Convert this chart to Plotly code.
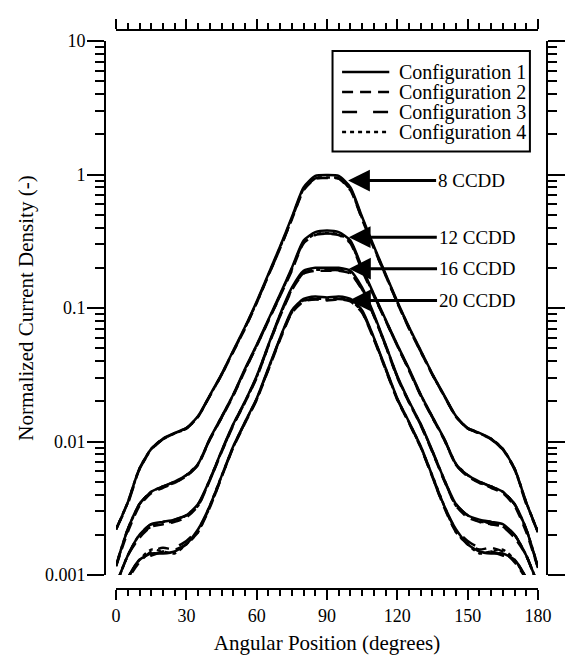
import math
import plotly.graph_objects as go

# ---------------- data ----------------
ANGLE = [0, 5, 10, 15, 20, 25, 30, 35, 40, 45, 50, 55, 60, 65, 70, 75, 80, 85, 90,
         95, 100, 105, 110, 115, 120, 125, 130, 135, 140, 145, 150, 155, 160, 165, 170, 175, 180]

CONFIG_NAMES = ["Configuration 1", "Configuration 2", "Configuration 3", "Configuration 4"]
FAMILY_LABELS = ["8 CCDD", "12 CCDD", "16 CCDD", "20 CCDD"]

# 8 CCDD
F8_C1 = [0.0022, 0.0035, 0.0063, 0.0088, 0.0105, 0.0116, 0.0126, 0.0155, 0.0222, 0.032, 0.048, 0.072, 0.112, 0.18, 0.29, 0.48, 0.80, 0.975, 0.99,
         0.975, 0.80, 0.48, 0.29, 0.18, 0.112, 0.072, 0.048, 0.032, 0.0222, 0.0155, 0.0126, 0.0116, 0.0105, 0.0088, 0.0063, 0.0035, 0.0021]
F8_C2 = [0.0022, 0.0035, 0.0062, 0.0087, 0.0104, 0.0115, 0.0125, 0.0153, 0.0219, 0.0315, 0.047, 0.070, 0.109, 0.175, 0.28, 0.46, 0.76, 0.93, 0.94,
         0.93, 0.76, 0.46, 0.28, 0.175, 0.109, 0.070, 0.047, 0.0315, 0.0219, 0.0153, 0.0125, 0.0115, 0.0104, 0.0087, 0.0062, 0.0035, 0.0021]
F8_C3 = [0.0022, 0.0034, 0.0062, 0.0087, 0.0104, 0.0116, 0.0126, 0.0154, 0.0220, 0.0316, 0.047, 0.071, 0.110, 0.176, 0.28, 0.465, 0.77, 0.935, 0.945,
         0.935, 0.77, 0.465, 0.28, 0.176, 0.110, 0.071, 0.047, 0.0316, 0.0220, 0.0154, 0.0126, 0.0116, 0.0104, 0.0087, 0.0062, 0.0034, 0.0021]
F8_C4 = [0.0022, 0.0035, 0.0063, 0.0088, 0.0105, 0.0115, 0.0125, 0.0154, 0.0220, 0.0317, 0.0475, 0.071, 0.110, 0.177, 0.285, 0.47, 0.78, 0.94, 0.95,
         0.94, 0.78, 0.47, 0.285, 0.177, 0.110, 0.071, 0.0475, 0.0317, 0.0220, 0.0154, 0.0125, 0.0115, 0.0105, 0.0088, 0.0063, 0.0035, 0.0021]

# 12 CCDD
F12_C1 = [0.00118, 0.0022, 0.0034, 0.0042, 0.0046, 0.0050, 0.0056, 0.0068, 0.0105, 0.0153, 0.0225, 0.035, 0.053, 0.082, 0.127, 0.20, 0.32, 0.37, 0.38,
          0.37, 0.32, 0.20, 0.127, 0.082, 0.053, 0.035, 0.0225, 0.0153, 0.0105, 0.0068, 0.0056, 0.0050, 0.0046, 0.0042, 0.0034, 0.0022, 0.00115]
F12_C2 = [0.00116, 0.0021, 0.0033, 0.0041, 0.0045, 0.0049, 0.0055, 0.0067, 0.0103, 0.0150, 0.0220, 0.034, 0.052, 0.080, 0.123, 0.19, 0.305, 0.352, 0.36,
          0.352, 0.305, 0.19, 0.123, 0.080, 0.052, 0.034, 0.0220, 0.0150, 0.0103, 0.0067, 0.0055, 0.0049, 0.0045, 0.0041, 0.0033, 0.0021, 0.00113]
F12_C3 = [0.00117, 0.0022, 0.0034, 0.0042, 0.0046, 0.0050, 0.0055, 0.0067, 0.0104, 0.0151, 0.0222, 0.0345, 0.052, 0.081, 0.124, 0.195, 0.31, 0.355, 0.362,
          0.355, 0.31, 0.195, 0.124, 0.081, 0.052, 0.0345, 0.0222, 0.0151, 0.0104, 0.0067, 0.0055, 0.0050, 0.0046, 0.0042, 0.0034, 0.0022, 0.00114]
F12_C4 = [0.00118, 0.0022, 0.0034, 0.0042, 0.0046, 0.0049, 0.0056, 0.0068, 0.0104, 0.0152, 0.0223, 0.0345, 0.0525, 0.081, 0.125, 0.196, 0.312, 0.358, 0.365,
          0.358, 0.312, 0.196, 0.125, 0.081, 0.0525, 0.0345, 0.0223, 0.0152, 0.0104, 0.0068, 0.0056, 0.0049, 0.0046, 0.0042, 0.0034, 0.0022, 0.00115]

# 16 CCDD
F16_C1 = [0.00085, 0.0014, 0.0020, 0.0024, 0.0025, 0.0026, 0.0028, 0.0034, 0.0052, 0.0085, 0.0135, 0.020, 0.031, 0.053, 0.090, 0.142, 0.19, 0.20, 0.20,
          0.20, 0.19, 0.142, 0.090, 0.053, 0.031, 0.020, 0.0135, 0.0085, 0.0052, 0.0034, 0.0028, 0.0026, 0.0025, 0.0024, 0.0020, 0.0014, 0.00085]
F16_C2 = [0.00083, 0.0014, 0.0019, 0.0023, 0.0024, 0.0025, 0.0027, 0.0033, 0.0051, 0.0083, 0.0132, 0.0196, 0.030, 0.052, 0.087, 0.136, 0.181, 0.19, 0.19,
          0.19, 0.181, 0.136, 0.087, 0.052, 0.030, 0.0196, 0.0132, 0.0083, 0.0051, 0.0033, 0.0027, 0.0025, 0.0024, 0.0023, 0.0019, 0.0014, 0.00083]
F16_C3 = [0.00084, 0.0014, 0.0020, 0.0024, 0.0024, 0.0026, 0.0028, 0.0034, 0.0051, 0.0084, 0.0133, 0.0197, 0.0305, 0.052, 0.088, 0.138, 0.183, 0.192, 0.192,
          0.192, 0.183, 0.138, 0.088, 0.052, 0.0305, 0.0197, 0.0133, 0.0084, 0.0051, 0.0034, 0.0028, 0.0026, 0.0024, 0.0024, 0.0020, 0.0014, 0.00084]
F16_C4 = [0.00085, 0.0014, 0.0020, 0.0023, 0.0025, 0.0025, 0.0028, 0.0033, 0.0052, 0.0084, 0.0134, 0.0198, 0.0305, 0.0525, 0.088, 0.139, 0.184, 0.193, 0.193,
          0.193, 0.184, 0.139, 0.088, 0.0525, 0.0305, 0.0198, 0.0134, 0.0084, 0.0052, 0.0033, 0.0028, 0.0025, 0.0025, 0.0023, 0.0020, 0.0014, 0.00085]

# 20 CCDD
F20_C1 = [0.0006, 0.00095, 0.0013, 0.00145, 0.00145, 0.0015, 0.0017, 0.0022, 0.0033, 0.0055, 0.0092, 0.014, 0.021, 0.0355, 0.060, 0.096, 0.117, 0.122, 0.120,
          0.122, 0.117, 0.096, 0.060, 0.0355, 0.021, 0.014, 0.0092, 0.0055, 0.0033, 0.0022, 0.0017, 0.0015, 0.00145, 0.00145, 0.0013, 0.00095, 0.0006]
F20_C2 = [0.0006, 0.00093, 0.00125, 0.0015, 0.0016, 0.00155, 0.0017, 0.0021, 0.0032, 0.0054, 0.0090, 0.0137, 0.0205, 0.0345, 0.058, 0.092, 0.112, 0.116, 0.114,
          0.116, 0.112, 0.092, 0.058, 0.0345, 0.0205, 0.0137, 0.0090, 0.0054, 0.0032, 0.0021, 0.0017, 0.00155, 0.0016, 0.0015, 0.00125, 0.00093, 0.0006]
F20_C3 = [0.0006, 0.00094, 0.0013, 0.0014, 0.0015, 0.0016, 0.0018, 0.0022, 0.0032, 0.0054, 0.0091, 0.0138, 0.0207, 0.035, 0.059, 0.093, 0.113, 0.117, 0.115,
          0.117, 0.113, 0.093, 0.059, 0.035, 0.0207, 0.0138, 0.0091, 0.0054, 0.0032, 0.0022, 0.0018, 0.0016, 0.0015, 0.0014, 0.0013, 0.00094, 0.0006]
F20_C4 = [0.0006, 0.00095, 0.0013, 0.00155, 0.0015, 0.00145, 0.0017, 0.0021, 0.0033, 0.0055, 0.0091, 0.0139, 0.0208, 0.035, 0.059, 0.094, 0.114, 0.118, 0.116,
          0.118, 0.114, 0.094, 0.059, 0.035, 0.0208, 0.0139, 0.0091, 0.0055, 0.0033, 0.0021, 0.0017, 0.00145, 0.0015, 0.00155, 0.0013, 0.00095, 0.0006]

FAMILIES = [
    [F8_C1, F8_C2, F8_C3, F8_C4],
    [F12_C1, F12_C2, F12_C3, F12_C4],
    [F16_C1, F16_C2, F16_C3, F16_C4],
    [F20_C1, F20_C2, F20_C3, F20_C4],
]

# arrow tips (angle, value) for the family labels
LABEL_TIP_ANGLE = [99.0, 99.3, 99.4, 99.4]
LABEL_TIP_VALUE = [0.90, 0.339, 0.197, 0.114]

X_TICKS = [0, 30, 60, 90, 120, 150, 180]
Y_TICKS = [0.001, 0.01, 0.1, 1, 10]
Y_TICKTEXT = ["0.001", "0.01", "0.1", "1", "10"]

# ---------------- layout geometry (pixels) ----------------
W, H = 565, 655
W_EFF = 549          # width the page actually lays the graph out at
L, R, T, B = 100, 0, 25, 60
PW, PH = W_EFF - L - R, H - T - B


def fx(px):
    return (px - L) / PW


def fy(py):
    return (H - B - py) / PH


FONT = "Liberation Serif"
DASHES = ["solid", "11px,7px", "15px,16px", "4px,4px"]
LW = 2.5

fig = go.Figure()
for fam in FAMILIES:
    for ci, vals in enumerate(fam):
        fig.add_trace(go.Scatter(
            x=ANGLE, y=vals, mode="lines",
            line=dict(color="black", width=LW, dash=DASHES[ci], shape="spline", smoothing=0.6),
            showlegend=False, hoverinfo="skip"))

# dummy traces so the mirror axes are drawn
fig.add_trace(go.Scatter(x=[None], y=[None], xaxis="x2", yaxis="y", showlegend=False))
fig.add_trace(go.Scatter(x=[None], y=[None], xaxis="x", yaxis="y2", showlegend=False))

axis_common = dict(showline=True, linecolor="black", linewidth=2, ticks="outside",
                   tickcolor="black", tickwidth=2, showgrid=False, zeroline=False,
                   mirror=False)

fig.update_layout(
    width=W, height=H, autosize=False,
    margin=dict(l=L, r=R, t=T, b=B, pad=0),
    paper_bgcolor="white", plot_bgcolor="white",
    font=dict(family=FONT, size=20, color="black"),
    showlegend=False,
    xaxis=dict(**axis_common, range=[0, 180], domain=[fx(116), fx(536)],
               anchor="free", position=fy(589), ticklen=10,
               tickmode="array", tickvals=X_TICKS, ticktext=[str(v) for v in X_TICKS],
               tickfont=dict(family=FONT, size=18),
               minor=dict(ticks="outside", ticklen=6, tickwidth=2, tickcolor="black", dtick=5, tick0=0, showgrid=False),
               title=dict(text="Angular Position (degrees)", font=dict(family=FONT, size=21), standoff=10)),
    xaxis2=dict(**axis_common, range=[0, 180], domain=[fx(116), fx(536)], overlaying="x",
                side="top", anchor="free", position=fy(30), ticklen=10,
                tickmode="array", tickvals=X_TICKS, showticklabels=False,
                minor=dict(ticks="outside", ticklen=6, tickwidth=2, tickcolor="black", dtick=5, tick0=0, showgrid=False)),
    yaxis=dict(**axis_common, type="log", range=[-3, 1], domain=[fy(575), fy(41)],
               anchor="free", position=fx(105), ticklen=17, ticklabelstandoff=-2,
               tickmode="array", tickvals=Y_TICKS, ticktext=Y_TICKTEXT,
               tickfont=dict(family=FONT, size=18),
               minor=dict(ticks="outside", ticklen=9, tickwidth=2, tickcolor="black", dtick="D1", showgrid=False),
               title=dict(text="Normalized Current Density (-)", font=dict(family=FONT, size=21), standoff=5)),
    yaxis2=dict(**axis_common, type="log", range=[-3, 1], domain=[fy(575), fy(41)], overlaying="y",
                side="right", anchor="free", position=fx(545), ticklen=18,
                tickmode="array", tickvals=Y_TICKS, showticklabels=False,
                minor=dict(ticks="outside", ticklen=9, tickwidth=2, tickcolor="black", dtick="D1", showgrid=False)),
)

# ---------------- manual legend ----------------
shapes = [dict(type="rect", xref="paper", yref="paper", x0=fx(331.5), x1=fx(528), y0=fy(151.5), y1=fy(51),
               line=dict(color="black", width=2), fillcolor="white", layer="above")]
annotations = []
ROW_Y = [72, 92, 112, 132]
for i, name in enumerate(CONFIG_NAMES):
    shapes.append(dict(type="line", xref="paper", yref="paper", x0=fx(341), x1=fx(388), y0=fy(ROW_Y[i]), y1=fy(ROW_Y[i]),
                       line=dict(color="black", width=LW, dash=DASHES[i]), layer="above"))
    annotations.append(dict(text=name, xref="paper", yref="paper", x=fx(396), y=fy(ROW_Y[i]),
                            xanchor="left", yanchor="middle", showarrow=False,
                            font=dict(family=FONT, size=20, color="black")))

# ---------------- arrow labels ----------------
for lab, ang, val in zip(FAMILY_LABELS, LABEL_TIP_ANGLE, LABEL_TIP_VALUE):
    annotations.append(dict(text=lab, x=ang, y=math.log10(val), xref="x", yref="y",
                            showarrow=True, arrowhead=2, arrowsize=1.45, arrowwidth=3, arrowcolor="black",
                            ax=88, ay=0, xanchor="left", yanchor="middle",
                            font=dict(family=FONT, size=19, color="black")))

fig.update_layout(shapes=shapes, annotations=annotations)
fig.write_html("out.html", config={"responsive": False})
